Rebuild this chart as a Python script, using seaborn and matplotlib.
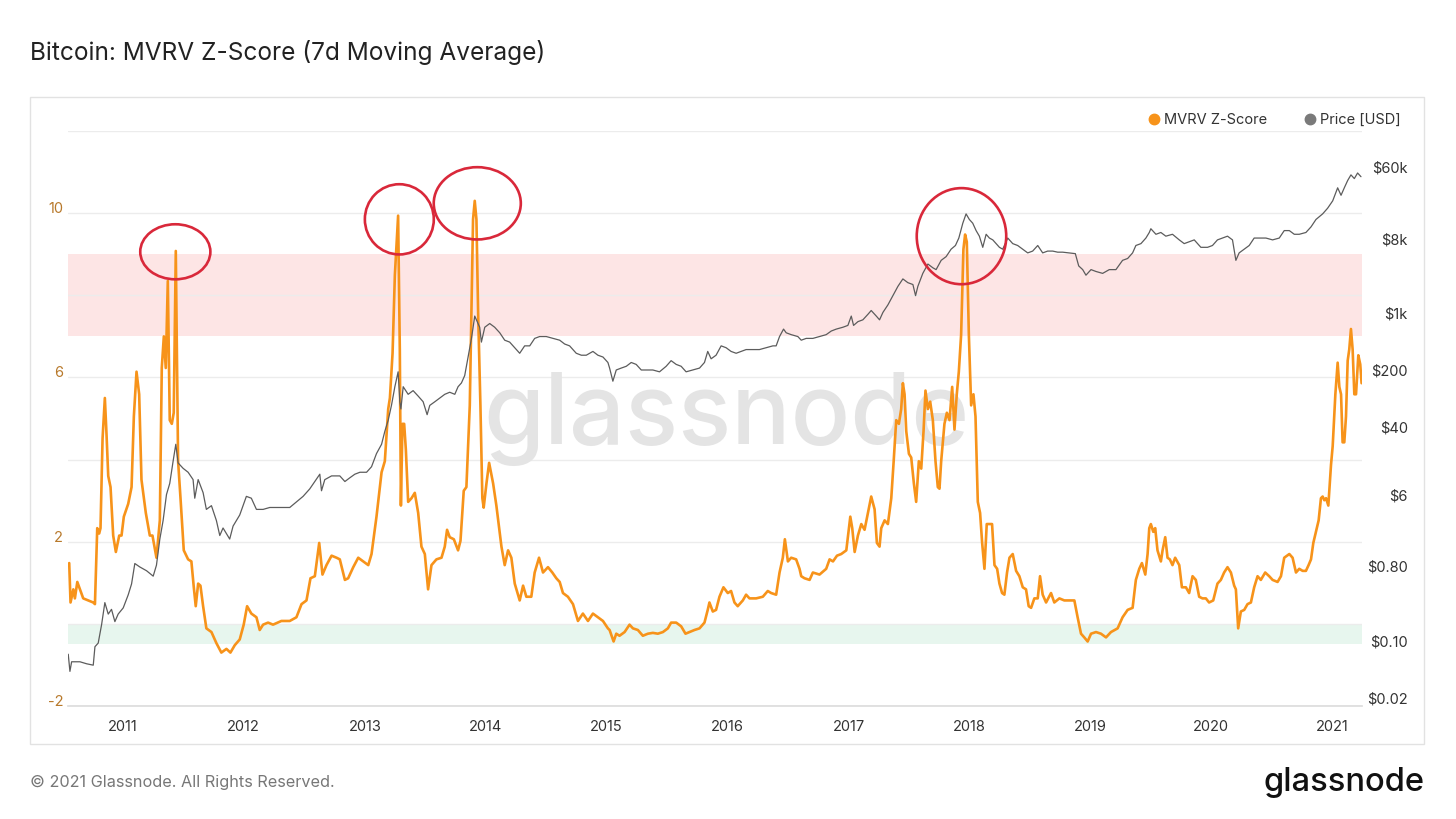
import matplotlib
matplotlib.use('Agg')
import matplotlib.pyplot as plt
import matplotlib.dates as mdates
from matplotlib.lines import Line2D
from matplotlib.patches import Ellipse, Rectangle
from matplotlib.ticker import NullLocator
import seaborn as sns
import pandas as pd

# MVRV Z-Score (7d MA), decimal years
z_years = [
    2010.556, 2010.567, 2010.590, 2010.603, 2010.623, 2010.672, 2010.755, 2010.769, 2010.788, 2010.804,
    2010.815, 2010.832, 2010.851, 2010.865, 2010.879, 2010.898, 2010.920, 2010.942, 2010.970, 2010.989,
    2011.008, 2011.044, 2011.072, 2011.091, 2011.113, 2011.135, 2011.154, 2011.190, 2011.223, 2011.245,
    2011.278, 2011.306, 2011.322, 2011.339, 2011.355, 2011.372, 2011.388, 2011.405, 2011.421, 2011.438,
    2011.457, 2011.477, 2011.504, 2011.540, 2011.567, 2011.587, 2011.603, 2011.623, 2011.642, 2011.664,
    2011.691, 2011.733, 2011.774, 2011.815, 2011.857, 2011.890, 2011.926, 2011.967, 2012.000, 2012.028,
    2012.063, 2012.105, 2012.132, 2012.160, 2012.201, 2012.242, 2012.311, 2012.380, 2012.435, 2012.477,
    2012.518, 2012.551, 2012.587, 2012.623, 2012.650, 2012.683, 2012.725, 2012.766,
    2012.793, 2012.835, 2012.862, 2012.904, 2012.945, 2012.986, 2013.028, 2013.055, 2013.096, 2013.138,
    2013.165, 2013.193, 2013.207, 2013.229, 2013.248, 2013.275, 2013.289, 2013.298, 2013.311, 2013.325,
    2013.339, 2013.358, 2013.386, 2013.413, 2013.441, 2013.468, 2013.496, 2013.523, 2013.551, 2013.592,
    2013.634, 2013.661, 2013.680, 2013.702, 2013.736, 2013.771, 2013.791, 2013.818, 2013.840, 2013.868,
    2013.895, 2013.909, 2013.923, 2013.937, 2013.956, 2013.972, 2013.983, 2014.006, 2014.028, 2014.061,
    2014.088, 2014.130, 2014.157, 2014.185, 2014.212, 2014.240, 2014.281, 2014.309, 2014.336, 2014.377,
    2014.405, 2014.441, 2014.474, 2014.515, 2014.551, 2014.584, 2014.612, 2014.639, 2014.680, 2014.722,
    2014.763, 2014.804, 2014.846, 2014.887, 2014.928, 2014.970, 2015.011,
    2015.025, 2015.058, 2015.080, 2015.107, 2015.149, 2015.190, 2015.218, 2015.259, 2015.300, 2015.342,
    2015.383, 2015.424, 2015.466, 2015.507, 2015.534, 2015.576, 2015.617, 2015.653, 2015.686, 2015.727,
    2015.769, 2015.810, 2015.837, 2015.851, 2015.879, 2015.906, 2015.934, 2015.967, 2016.003, 2016.030,
    2016.058, 2016.085, 2016.127, 2016.154, 2016.182, 2016.237, 2016.292, 2016.333, 2016.361, 2016.402,
    2016.430, 2016.457, 2016.474, 2016.499, 2016.526, 2016.567, 2016.595, 2016.609, 2016.636, 2016.678,
    2016.705, 2016.760, 2016.815, 2016.843, 2016.871, 2016.904, 2016.939, 2016.981, 2017.014, 2017.030,
    2017.050, 2017.077, 2017.105, 2017.132, 2017.160, 2017.187, 2017.215, 2017.234, 2017.256,
    2017.270, 2017.298, 2017.325, 2017.353, 2017.372, 2017.394, 2017.416, 2017.435, 2017.449, 2017.463,
    2017.477, 2017.499, 2017.518, 2017.540, 2017.559, 2017.581, 2017.601, 2017.620, 2017.636, 2017.656,
    2017.675, 2017.697, 2017.719, 2017.738, 2017.752, 2017.766, 2017.793, 2017.813, 2017.835, 2017.857,
    2017.876, 2017.895, 2017.912, 2017.931, 2017.950, 2017.964, 2017.978, 2017.995, 2018.014, 2018.033,
    2018.050, 2018.069, 2018.088, 2018.105, 2018.124, 2018.143, 2018.165, 2018.187, 2018.207, 2018.229,
    2018.248, 2018.270, 2018.289, 2018.311, 2018.331, 2018.358, 2018.386, 2018.413, 2018.441, 2018.468,
    2018.490, 2018.510, 2018.537, 2018.565, 2018.584, 2018.606, 2018.634, 2018.675, 2018.702, 2018.744,
    2018.785, 2018.826, 2018.868, 2018.895, 2018.923, 2018.950, 2018.978, 2019.006, 2019.047, 2019.088,
    2019.130, 2019.171, 2019.226, 2019.267, 2019.309, 2019.350, 2019.377, 2019.405, 2019.427, 2019.455,
    2019.474, 2019.488,
    2019.501, 2019.521, 2019.537, 2019.556, 2019.584, 2019.598, 2019.620, 2019.639, 2019.658, 2019.680,
    2019.702, 2019.736, 2019.758, 2019.791, 2019.818, 2019.846, 2019.873, 2019.901, 2019.928, 2019.956,
    2019.983, 2020.017, 2020.052, 2020.080, 2020.107, 2020.135, 2020.163, 2020.190, 2020.204, 2020.223,
    2020.245, 2020.273, 2020.300, 2020.328, 2020.355, 2020.383, 2020.410, 2020.446, 2020.479, 2020.507,
    2020.548, 2020.576, 2020.603, 2020.645, 2020.672, 2020.700, 2020.727, 2020.755, 2020.782, 2020.804,
    2020.824, 2020.843, 2020.865, 2020.887, 2020.906, 2020.920, 2020.934, 2020.948, 2020.967, 2020.989,
    2021.003, 2021.025, 2021.044, 2021.058, 2021.072, 2021.085, 2021.099, 2021.113, 2021.127, 2021.140,
    2021.154, 2021.168, 2021.182, 2021.196, 2021.215, 2021.231, 2021.242,
]
z_values = [
    1.48, 0.52, 0.84, 0.62, 1.02, 0.62, 0.52, 0.48, 2.33, 2.20,
    2.33, 4.51, 5.50, 4.60, 3.60, 3.33, 2.15, 1.75, 2.15, 2.15,
    2.61, 2.92, 3.33, 5.05, 6.14, 5.59, 3.51, 2.70, 2.15, 2.15,
    1.61, 2.52, 6.23, 7.00, 6.23, 8.35, 4.96, 4.87, 5.14, 9.08,
    3.96, 3.06, 1.79, 1.57, 1.52, 0.89, 0.43, 0.98, 0.93, 0.43,
    -0.11, -0.20, -0.47, -0.70, -0.61, -0.70, -0.52, -0.38, -0.02, 0.43,
    0.25, 0.16, -0.15, -0.02, 0.03, -0.02, 0.07, 0.07, 0.16, 0.48,
    0.57, 1.11, 1.16, 1.97, 1.20, 1.43, 1.66, 1.61,
    1.57, 1.07, 1.11, 1.38, 1.61, 1.52, 1.43, 1.70, 2.61, 3.69,
    3.96, 5.23, 5.50, 6.59, 8.49, 9.94, 6.68, 2.88, 4.87, 4.87,
    4.24, 2.97, 3.06, 3.19, 2.70, 1.88, 1.70, 0.84, 1.43, 1.57,
    1.61, 1.88, 2.29, 2.11, 2.06, 1.79, 2.02, 3.24, 3.33, 5.32,
    9.85, 10.30, 9.85, 7.58, 5.32, 3.06, 2.83, 3.42, 3.92, 3.42,
    2.88, 1.88, 1.43, 1.79, 1.61, 0.98, 0.57, 0.93, 0.66, 0.66,
    1.25, 1.61, 1.25, 1.38, 1.25, 1.11, 1.02, 0.75, 0.66, 0.48,
    0.07, 0.25, 0.07, 0.25, 0.16, 0.07, -0.11,
    -0.15, -0.43, -0.24, -0.29, -0.20, -0.02, -0.11, -0.15, -0.29, -0.24,
    -0.22, -0.24, -0.20, -0.11, 0.03, 0.03, -0.06, -0.24, -0.20, -0.15,
    -0.11, 0.03, 0.34, 0.52, 0.30, 0.34, 0.66, 0.89, 0.75, 0.80,
    0.52, 0.43, 0.57, 0.71, 0.62, 0.62, 0.66, 0.80, 0.75, 0.71,
    1.25, 1.61, 2.06, 1.52, 1.61, 1.57, 1.34, 1.16, 1.11, 1.07,
    1.25, 1.20, 1.34, 1.57, 1.52, 1.66, 1.70, 1.79, 2.61, 2.33,
    1.75, 2.15, 2.43, 2.29, 2.70, 3.10, 2.79, 1.97, 1.88,
    2.33, 2.52, 2.43, 3.06, 3.92, 4.96, 4.87, 5.23, 5.86, 5.59,
    4.69, 4.14, 4.05, 3.42, 2.97, 3.96, 3.78, 4.69, 5.68, 5.23,
    5.41, 4.96, 3.96, 3.33, 3.29, 3.96, 4.87, 5.14, 4.96, 5.77,
    4.73, 5.59, 6.14, 7.04, 9.12, 9.48, 9.30, 7.04, 5.32, 5.59,
    5.05, 2.97, 2.70, 1.97, 1.34, 2.43, 2.43, 2.43, 1.43, 1.34,
    0.98, 0.75, 0.71, 1.25, 1.61, 1.70, 1.29, 1.16, 0.89, 0.84,
    0.43, 0.39, 0.62, 0.62, 1.16, 0.71, 0.52, 0.75, 0.52, 0.62,
    0.57, 0.57, 0.57, 0.16, -0.24, -0.33, -0.43, -0.24, -0.20, -0.24,
    -0.33, -0.20, -0.11, 0.16, 0.34, 0.39, 1.07, 1.34, 1.48, 1.20,
    1.70, 2.33,
    2.43, 2.24, 2.33, 1.79, 1.52, 1.79, 2.11, 1.61, 1.57, 1.43,
    1.61, 1.43, 0.89, 0.89, 0.75, 1.16, 1.07, 0.66, 0.62, 0.62,
    0.52, 0.57, 0.98, 1.07, 1.25, 1.38, 1.25, 0.93, 0.84, -0.11,
    0.30, 0.34, 0.48, 0.52, 0.89, 1.16, 1.07, 1.25, 1.16, 1.07,
    1.02, 1.16, 1.61, 1.70, 1.61, 1.25, 1.34, 1.29, 1.29, 1.43,
    1.57, 1.97, 2.24, 2.52, 3.06, 3.10, 3.01, 3.06, 2.88, 3.87,
    4.33, 5.59, 6.36, 5.77, 5.59, 4.42, 4.42, 5.05, 6.41, 6.68,
    7.18, 6.68, 5.59, 5.59, 6.54, 6.32, 5.86,
]

# BTC price in USD (log axis)
price_years = [
    2010.548, 2010.562, 2010.576, 2010.645, 2010.700, 2010.755, 2010.769, 2010.796, 2010.824, 2010.851,
    2010.879, 2010.906, 2010.934, 2010.961, 2011.003, 2011.044, 2011.072, 2011.099, 2011.140, 2011.196,
    2011.251, 2011.278, 2011.306, 2011.333, 2011.361, 2011.388, 2011.416, 2011.438, 2011.457, 2011.499,
    2011.540, 2011.581, 2011.595, 2011.623, 2011.664, 2011.691, 2011.733, 2011.774, 2011.802, 2011.829,
    2011.857, 2011.884, 2011.912, 2011.967, 2012.022, 2012.063, 2012.105, 2012.160, 2012.215, 2012.298,
    2012.380, 2012.435, 2012.490, 2012.545, 2012.628, 2012.642, 2012.669, 2012.725, 2012.793,
    2012.835, 2012.876, 2012.917, 2012.959, 2013.014, 2013.055, 2013.096, 2013.138, 2013.165, 2013.193,
    2013.220, 2013.248, 2013.275, 2013.289, 2013.298, 2013.317, 2013.358, 2013.399, 2013.441, 2013.482,
    2013.515, 2013.537, 2013.579, 2013.620, 2013.661, 2013.702, 2013.744, 2013.771, 2013.799, 2013.826,
    2013.854, 2013.882, 2013.909, 2013.923, 2013.950, 2013.964, 2013.992, 2014.033, 2014.074, 2014.116,
    2014.157, 2014.198, 2014.240, 2014.281, 2014.322, 2014.364, 2014.405, 2014.446, 2014.501, 2014.556,
    2014.612, 2014.653, 2014.694, 2014.749, 2014.791, 2014.832, 2014.887, 2014.928, 2014.970, 2015.011,
    2015.025, 2015.052, 2015.080, 2015.121, 2015.163, 2015.204, 2015.245, 2015.287, 2015.328, 2015.383,
    2015.438, 2015.493, 2015.534, 2015.576, 2015.617, 2015.658, 2015.713, 2015.769, 2015.810, 2015.837,
    2015.865, 2015.906, 2015.948, 2015.989, 2016.030, 2016.072, 2016.113, 2016.154, 2016.209, 2016.264,
    2016.320, 2016.375, 2016.402, 2016.430, 2016.463, 2016.485, 2016.526, 2016.581, 2016.609, 2016.650,
    2016.705, 2016.760, 2016.815, 2016.857, 2016.898, 2016.953, 2016.994, 2017.022, 2017.041, 2017.077,
    2017.118, 2017.160, 2017.187, 2017.229, 2017.256,
    2017.284, 2017.325, 2017.366, 2017.408, 2017.449, 2017.490, 2017.532, 2017.554, 2017.573, 2017.614,
    2017.656, 2017.697, 2017.724, 2017.766, 2017.807, 2017.848, 2017.884, 2017.912, 2017.945, 2017.972,
    2017.999, 2018.027, 2018.055, 2018.082, 2018.110, 2018.138, 2018.165, 2018.193, 2018.220, 2018.248,
    2018.275, 2018.317, 2018.358, 2018.399, 2018.441, 2018.482, 2018.523, 2018.565, 2018.606, 2018.647,
    2018.689, 2018.730, 2018.771, 2018.826, 2018.876, 2018.904, 2018.937, 2018.964, 2019.006, 2019.047,
    2019.102, 2019.157, 2019.212, 2019.267, 2019.309, 2019.350, 2019.377, 2019.419, 2019.460, 2019.488,
    2019.501, 2019.543, 2019.584, 2019.625, 2019.680, 2019.736, 2019.777, 2019.818, 2019.860, 2019.915,
    2019.970, 2020.011, 2020.052, 2020.094, 2020.135, 2020.176, 2020.204, 2020.231, 2020.273, 2020.314,
    2020.355, 2020.397, 2020.452, 2020.507, 2020.562, 2020.603, 2020.645, 2020.686, 2020.727, 2020.782,
    2020.824, 2020.865, 2020.920, 2020.961, 2021.003, 2021.044, 2021.072, 2021.099, 2021.127, 2021.154,
    2021.182, 2021.209, 2021.237,
]
price_values = [
    0.068, 0.042, 0.055, 0.055, 0.052, 0.050, 0.084, 0.093, 0.156, 0.29,
    0.21, 0.24, 0.17, 0.21, 0.25, 0.36, 0.49, 0.87, 0.79, 0.71,
    0.61, 0.83, 1.73, 2.91, 6.04, 8.26, 15.5, 24.8, 14.7, 12.6,
    11.3, 9.2, 5.45, 9.2, 6.37, 3.98, 4.42, 2.91, 1.91, 2.36,
    2.02, 1.73, 2.49, 3.40, 5.74, 5.45, 3.98, 3.98, 4.20, 4.20,
    4.20, 4.91, 5.74, 7.08, 10.7, 6.72, 9.18, 10.2, 10.2,
    8.71, 9.68, 10.7, 11.3, 11.3, 13.2, 19.1, 24.8, 35.7, 48.8,
    74.1, 125, 190, 82, 66.8, 125, 101, 112, 96, 82,
    57, 74, 82, 91, 101, 107, 101, 125, 139, 171,
    288, 486, 910, 819, 665, 438, 665, 738, 665, 569,
    462, 438, 374, 320, 394, 394, 486, 512, 512, 486,
    462, 415, 394, 320, 303, 303, 337, 303, 288, 247,
    211, 146, 200, 211, 222, 247, 234, 200, 200, 200,
    190, 222, 260, 234, 222, 190, 200, 211, 247, 337,
    274, 303, 394, 374, 337, 320, 337, 355, 355, 355,
    374, 394, 394, 512, 631, 569, 540, 512, 462, 486,
    486, 512, 540, 598, 631, 665, 700, 910, 700, 778,
    819, 957, 1064, 910, 819,
    1009, 1245, 1615, 2098, 2585, 2328, 2208, 1615, 2098, 3020,
    3926, 3535, 3357, 4357, 4836, 5960, 6611, 8150, 12380, 16070,
    13740, 12380, 10050, 8590, 6280, 9060, 8150, 7740, 6970, 6280,
    5960, 8150, 6970, 6611, 5960, 5370, 5650, 6611, 5370, 5650,
    5650, 5480, 5480, 5370, 5260, 3724, 3357, 2871, 3357, 3186,
    3020, 3357, 3357, 4357, 4590, 5370, 6611, 6970, 8150, 9530,
    10590, 9060, 9530, 8590, 9060, 7740, 6970, 7345, 7740, 6280,
    6280, 6611, 7740, 8150, 8590, 7740, 4357, 5370, 5960, 6611,
    8150, 8150, 8150, 7740, 8150, 10050, 10050, 9060, 9060, 9530,
    11150, 13740, 16070, 18840, 23180, 33420, 27100, 33420, 41100, 48080,
    43350, 50700, 45700,
]

year_ticks = list(range(2011, 2022))
z_grid_levels = [-2, 0, 2, 4, 6, 8, 10, 12]
z_tick_labels = ['-2', '', '2', '', '6', '', '10', '']
price_ticks = [0.02, 0.1, 0.8, 6, 40, 200, 1000, 8000, 60000]
price_tick_labels = ['$0.02', '$0.10', '$0.80', '$6', '$40', '$200', '$1k', '$8k', '$60k']
top_band = (7, 9)
bottom_band = (-0.5, 0)
# highlighted cycle tops: (decimal year, z, width in years, height in z)
highlight_circles = [
    (2011.434, 9.06, 0.58, 1.34),
    (2013.285, 9.85, 0.57, 1.71),
    (2013.930, 10.24, 0.72, 1.76),
    (2017.934, 9.44, 0.74, 2.34),
]

ORANGE = '#f7931a'
GREY = '#5c5c5c'


def to_dates(years):
    out = []
    for y in years:
        base = int(y)
        start = pd.Timestamp(year=base, month=1, day=1)
        span = pd.Timestamp(year=base + 1, month=1, day=1) - start
        out.append(start + span * (y - base))
    return out


z_df = pd.DataFrame({'date': to_dates(z_years), 'z': z_values})
price_df = pd.DataFrame({'date': to_dates(price_years), 'price': price_values})

sns.set_theme(style='white')
plt.rcParams['font.family'] = ['Inter', 'DejaVu Sans']

fig = plt.figure(figsize=(14.56, 8.19), dpi=100)
fig.patch.set_facecolor('white')

# outer panel frame
fig.patches.append(Rectangle((0.0206, 0.0916), 0.9574, 0.79, transform=fig.transFigure,
                             fill=False, edgecolor='#e2e2e2', linewidth=1))

ax = fig.add_axes([0.0467, 0.138, 0.8887, 0.702])
ax.set_facecolor('none')

ax.axhspan(*top_band, color='#fde5e5', zorder=0.6, linewidth=0)
ax.axhspan(*bottom_band, color='#e7f6ee', zorder=0.6, linewidth=0)
for lvl in z_grid_levels:
    ax.axhline(lvl, color='#ececec', linewidth=1, zorder=0.7)

ax.text(0.509, 0.50, 'glassnode', transform=ax.transAxes, fontsize=71, color='#e4e4e4',
        ha='center', va='center', fontweight='medium', zorder=0.8)

sns.lineplot(data=z_df, x='date', y='z', ax=ax, color=ORANGE, linewidth=1.9,
             estimator=None, sort=False, zorder=3)

ax2 = ax.twinx()
sns.lineplot(data=price_df, x='date', y='price', ax=ax2, color=GREY, linewidth=0.9,
             estimator=None, sort=False, zorder=3)
ax2.set_yscale('log')

# axes ranges
x_left = to_dates([2010.546])[0]
x_right = to_dates([2021.245])[0]
ax.set_xlim(x_left, x_right)
ax.set_ylim(-2, 12)
ax2.set_ylim(10 ** -1.799, 10 ** 5.217)

ax.set_xticks([mdates.date2num(pd.Timestamp(year=y, month=1, day=1)) for y in year_ticks])
ax.set_xticklabels([str(y) for y in year_ticks])
ax.set_yticks(z_grid_levels)
ax.set_yticklabels(z_tick_labels)
ax.tick_params(axis='y', length=0, pad=3.5, labelsize=10.5, labelcolor='#b8792b')
for lbl in ax.get_yticklabels():
    lbl.set_verticalalignment('baseline')
ax.tick_params(axis='x', length=4, color='#dddddd', pad=6, labelsize=10.5, labelcolor='#333333')
ax.set_xlabel('')
ax.set_ylabel('')
ax.grid(False)

ax2.set_yticks(price_ticks)
ax2.set_yticklabels(price_tick_labels)
ax2.yaxis.set_minor_locator(NullLocator())
ax2.tick_params(axis='y', length=0, pad=33, labelsize=10.5, labelcolor='#333333')
for lbl in ax2.get_yticklabels():
    lbl.set_horizontalalignment('right')
ax2.set_ylabel('')
ax2.grid(False)

for a in (ax, ax2):
    for side in ('top', 'left', 'right'):
        a.spines[side].set_visible(False)
ax.spines['bottom'].set_color('#dddddd')
ax2.spines['bottom'].set_visible(False)

# red circles around the cycle tops
for yr, zc, w, h in highlight_circles:
    cx = mdates.date2num(to_dates([yr])[0])
    ell = Ellipse((cx, zc), w * 365.25, h, transform=ax.transData, fill=False,
                  edgecolor='#d9283a', linewidth=1.9, zorder=6, clip_on=False)
    ax2.add_patch(ell)

# legend
handles = [
    Line2D([], [], marker='o', linestyle='', color=ORANGE, markersize=7.5, label='MVRV Z-Score'),
    Line2D([], [], marker='o', linestyle='', color='#7a7a7a', markersize=7.5, label='Price [USD]'),
]
fig.legend(handles=handles, loc='center right', bbox_to_anchor=(0.971, 0.8535), ncol=2,
           frameon=False, fontsize=10.5, handletextpad=0.2, columnspacing=2.4,
           handlelength=1.0, labelcolor='#333333')

fig.text(0.0206, 0.9365, 'Bitcoin: MVRV Z-Score (7d Moving Average)', fontsize=17.6,
         color='#222222', ha='left', va='center')
fig.text(0.0206, 0.044, '\u00a9 2021 Glassnode. All Rights Reserved.', fontsize=11.7,
         color='#777777', ha='left', va='center')
fig.text(0.9787, 0.045, 'glassnode', fontsize=23.5, color='#111111', ha='right', va='center',
         fontweight='medium')

fig.savefig('out.png', dpi=100)
plt.close(fig)
